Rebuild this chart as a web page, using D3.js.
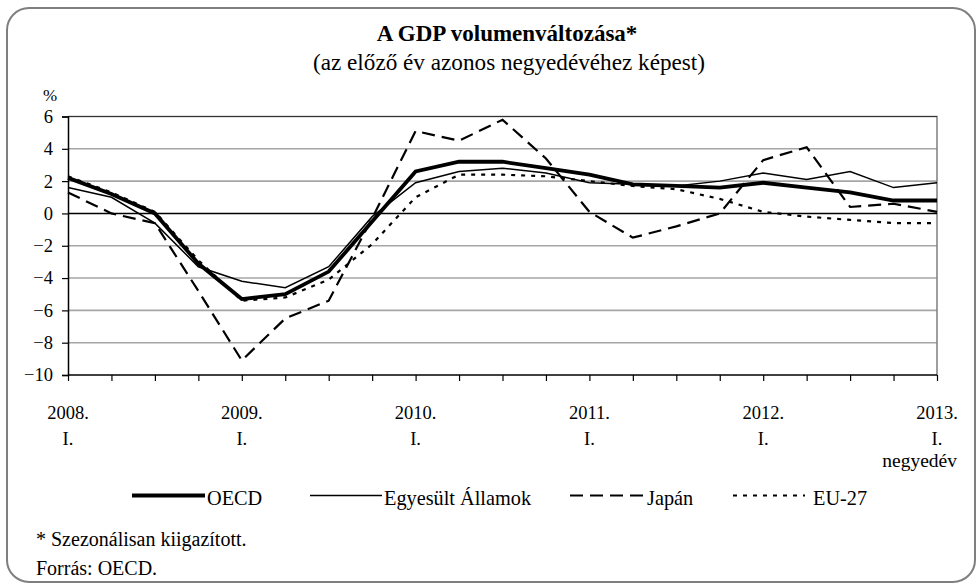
<!DOCTYPE html>
<html>
<head>
<meta charset="utf-8">
<script src="https://cdn.jsdelivr.net/npm/d3@7"></script>
<style>
  html, body { margin: 0; padding: 0; background: #fff; }
</style>
</head>
<body>
<svg id="chart" width="980" height="584"></svg>
<script>
// ---- data ----
const quarters = ["2008 I","2008 II","2008 III","2008 IV","2009 I","2009 II","2009 III","2009 IV",
  "2010 I","2010 II","2010 III","2010 IV","2011 I","2011 II","2011 III","2011 IV",
  "2012 I","2012 II","2012 III","2012 IV","2013 I"];
const oecd  = [2.2, 1.2, 0.0, -3.1, -5.3, -5.0, -3.6, -0.5, 2.6, 3.2, 3.2, 2.8, 2.4, 1.8, 1.7, 1.6, 1.9, 1.6, 1.3, 0.8, 0.8];
const usa   = [1.6, 1.0, -0.6, -3.3, -4.2, -4.6, -3.3, -0.2, 1.9, 2.6, 2.8, 2.5, 1.9, 1.8, 1.7, 2.0, 2.5, 2.1, 2.6, 1.6, 1.9];
const japan = [1.3, 0.0, -0.6, -4.8, -9.1, -6.5, -5.4, -0.3, 5.1, 4.5, 5.8, 3.4, 0.1, -1.5, -0.8, 0.0, 3.3, 4.1, 0.4, 0.6, 0.1];
const eu27  = [2.3, 1.3, 0.1, -2.9, -5.4, -5.2, -4.1, -1.9, 1.0, 2.4, 2.4, 2.3, 2.0, 1.7, 1.5, 0.9, 0.1, -0.2, -0.4, -0.6, -0.6];
const seriesNames = ["OECD", "Egyesült Államok", "Japán", "EU-27"];
const yTicks = [6, 4, 2, 0, -2, -4, -6, -8, -10];
const yearLabels = ["2008.", "2009.", "2010.", "2011.", "2012.", "2013."];
const title = "A GDP volumenváltozása*";
const subtitle = "(az előző év azonos negyedévéhez képest)";

const FONT = "'Liberation Serif', 'DejaVu Serif', 'Times New Roman', serif";

// ---- layout ----
const svg = d3.select("#chart");
const L = 68, R = 937, T = 116.5, B = 375;

const x = d3.scalePoint().domain(quarters).range([L, R]);
const y = d3.scaleLinear().domain([-10, 6]).range([B, T]);

// frame
svg.append("rect").attr("x", 7).attr("y", 8).attr("width", 968).attr("height", 574)
  .attr("rx", 22).attr("ry", 22).attr("fill", "#fff").attr("stroke", "#7f7f7f").attr("stroke-width", 2);

// titles
svg.append("text").attr("x", 507).attr("y", 41).attr("text-anchor", "middle")
  .attr("font-size", 23).attr("font-weight", "bold").text(title);
svg.append("text").attr("x", 509).attr("y", 70).attr("text-anchor", "middle")
  .attr("font-size", 23.2).text(subtitle);

// gridlines
svg.append("g").selectAll("line").data(yTicks.filter(v => v !== 0 && v !== -10 && v !== 6)).join("line")
  .attr("x1", L).attr("x2", R).attr("y1", d => y(d)).attr("y2", d => y(d))
  .attr("stroke", "#a6a6a6").attr("stroke-width", 1.6);
// top and right border
svg.append("path").attr("d", `M${L},${y(6)}H${R}V${B}`).attr("fill", "none")
  .attr("stroke", "#7f7f7f").attr("stroke-width", 1.5);
svg.append("line").attr("x1", L).attr("x2", R).attr("y1", y(6)).attr("y2", y(6))
  .attr("stroke", "#333").attr("stroke-width", 1.2);
// zero line
svg.append("line").attr("x1", L).attr("x2", R).attr("y1", y(0)).attr("y2", y(0))
  .attr("stroke", "#000").attr("stroke-width", 1.5);

// y axis
const yAxis = d3.axisLeft(y).tickValues(yTicks).tickSize(6).tickPadding(9).tickFormat(d3.format("d"));
const gy = svg.append("g").attr("transform", `translate(${L},0)`).call(yAxis);
gy.select(".domain").attr("stroke", "#000").attr("stroke-width", 1.5);
gy.selectAll(".tick line").attr("stroke", "#000").attr("stroke-width", 1.2);
gy.selectAll(".tick text").attr("font-size", 18.5).attr("fill", "#000");

svg.append("text").attr("x", 50).attr("y", 101).attr("text-anchor", "middle").attr("font-size", 17).text("%");

// x axis
const xAxis = d3.axisBottom(x).tickSize(6).tickFormat("");
const gx = svg.append("g").attr("transform", `translate(0,${B})`).call(xAxis);
gx.select(".domain").attr("stroke", "#000").attr("stroke-width", 1.5).attr("d", `M${L},0H${R}`);
gx.selectAll(".tick line").attr("stroke", "#000").attr("stroke-width", 1.2);

// x labels at year starts
const yearQuarters = quarters.filter(q => q.endsWith(" I"));
svg.append("g").selectAll("text").data(yearQuarters).join("text")
  .attr("x", d => x(d)).attr("y", 419).attr("text-anchor", "middle").attr("font-size", 18.5)
  .text((d, i) => yearLabels[i]);
svg.append("g").selectAll("text").data(yearQuarters).join("text")
  .attr("x", d => x(d)).attr("y", 445).attr("text-anchor", "middle").attr("font-size", 18.5)
  .text("I.");
svg.append("text").attr("x", 957).attr("y", 467).attr("text-anchor", "end").attr("font-size", 19.5).text("negyedév");

// series
const styles = [
  { data: oecd,  width: 3.8, dash: null },
  { data: usa,   width: 1.5, dash: null },
  { data: japan, width: 2.2, dash: "13,7" },
  { data: eu27,  width: 2.2, dash: "4,6" }
];
const line = d3.line().x((d, i) => x(quarters[i])).y(d => y(d));
[3, 2, 1, 0].forEach(k => {
  const s = styles[k];
  svg.append("path").datum(s.data).attr("d", line).attr("fill", "none")
    .attr("stroke", "#000").attr("stroke-width", s.width)
    .attr("stroke-dasharray", s.dash).attr("stroke-linejoin", "miter");
});

// legend
const legendPos = [
  { x1: 132, x2: 205, tx: 207 },
  { x1: 310, x2: 382, tx: 384 },
  { x1: 570, x2: 645, tx: 647 },
  { x1: 733, x2: 805, tx: 813 }
];
const lg = svg.append("g");
seriesNames.forEach((name, k) => {
  const p = legendPos[k], s = styles[k];
  lg.append("line").attr("x1", p.x1).attr("x2", p.x2).attr("y1", 495.5).attr("y2", 495.5)
    .attr("stroke", "#000").attr("stroke-width", s.width).attr("stroke-dasharray", s.dash);
  lg.append("text").attr("x", p.tx).attr("y", 505).attr("font-size", 20.3).text(name);
});

// footnotes
svg.append("text").attr("x", 36).attr("y", 546).attr("font-size", 20).text("* Szezonálisan kiigazított.");
svg.append("text").attr("x", 36).attr("y", 575).attr("font-size", 20).text("Forrás: OECD.");

// apply serif font to all text
svg.selectAll("text").style("font-family", FONT).style("fill", "#000");
</script>
</body>
</html>
